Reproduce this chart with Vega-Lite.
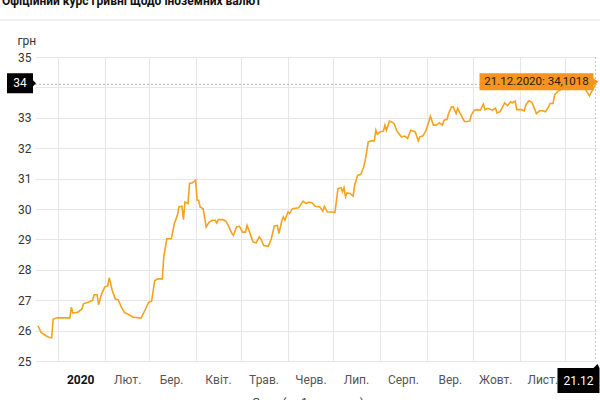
{
  "$schema": "https://vega.github.io/schema/vega-lite/v6.json",
  "width": 562,
  "height": 304,
  "autosize": "none",
  "padding": {"left": 35, "top": 57, "right": 3, "bottom": 39},
  "background": "white",
  "config": {
    "view": {"stroke": null},
    "font": "Roboto",
    "axis": {"labelFont": "Roboto", "titleFont": "Roboto"}
  },
  "datasets": {
    "rates": [
      {"date": "2019-12-19", "rate": 26.16},
      {"date": "2019-12-21", "rate": 25.94},
      {"date": "2019-12-24", "rate": 25.84},
      {"date": "2019-12-26", "rate": 25.78},
      {"date": "2019-12-28", "rate": 25.76},
      {"date": "2019-12-29", "rate": 26.38},
      {"date": "2020-01-01", "rate": 26.42},
      {"date": "2020-01-09", "rate": 26.42},
      {"date": "2020-01-10", "rate": 26.77},
      {"date": "2020-01-11", "rate": 26.58},
      {"date": "2020-01-14", "rate": 26.60},
      {"date": "2020-01-17", "rate": 26.71},
      {"date": "2020-01-18", "rate": 26.88},
      {"date": "2020-01-21", "rate": 26.93},
      {"date": "2020-01-24", "rate": 26.99},
      {"date": "2020-01-25", "rate": 27.18},
      {"date": "2020-01-27", "rate": 27.18},
      {"date": "2020-01-28", "rate": 26.85},
      {"date": "2020-01-30", "rate": 27.21},
      {"date": "2020-02-01", "rate": 27.43},
      {"date": "2020-02-03", "rate": 27.47},
      {"date": "2020-02-04", "rate": 27.74},
      {"date": "2020-02-06", "rate": 27.32},
      {"date": "2020-02-08", "rate": 27.04},
      {"date": "2020-02-10", "rate": 27.01},
      {"date": "2020-02-12", "rate": 26.77},
      {"date": "2020-02-14", "rate": 26.60},
      {"date": "2020-02-17", "rate": 26.52},
      {"date": "2020-02-20", "rate": 26.44},
      {"date": "2020-02-25", "rate": 26.41},
      {"date": "2020-02-28", "rate": 26.71},
      {"date": "2020-03-01", "rate": 26.93},
      {"date": "2020-03-03", "rate": 26.97},
      {"date": "2020-03-05", "rate": 27.65},
      {"date": "2020-03-07", "rate": 27.70},
      {"date": "2020-03-10", "rate": 27.70},
      {"date": "2020-03-11", "rate": 28.42},
      {"date": "2020-03-13", "rate": 29.02},
      {"date": "2020-03-16", "rate": 29.02},
      {"date": "2020-03-18", "rate": 29.52},
      {"date": "2020-03-20", "rate": 29.79},
      {"date": "2020-03-21", "rate": 30.07},
      {"date": "2020-03-23", "rate": 30.09},
      {"date": "2020-03-24", "rate": 29.65},
      {"date": "2020-03-25", "rate": 30.23},
      {"date": "2020-03-27", "rate": 30.18},
      {"date": "2020-03-28", "rate": 30.84},
      {"date": "2020-03-30", "rate": 30.86},
      {"date": "2020-04-01", "rate": 30.95},
      {"date": "2020-04-02", "rate": 30.29},
      {"date": "2020-04-03", "rate": 30.29},
      {"date": "2020-04-04", "rate": 30.07},
      {"date": "2020-04-06", "rate": 30.01},
      {"date": "2020-04-08", "rate": 29.41},
      {"date": "2020-04-10", "rate": 29.57},
      {"date": "2020-04-12", "rate": 29.63},
      {"date": "2020-04-14", "rate": 29.63},
      {"date": "2020-04-15", "rate": 29.54},
      {"date": "2020-04-16", "rate": 29.65},
      {"date": "2020-04-19", "rate": 29.65},
      {"date": "2020-04-21", "rate": 29.60},
      {"date": "2020-04-23", "rate": 29.41},
      {"date": "2020-04-25", "rate": 29.19},
      {"date": "2020-04-26", "rate": 29.13},
      {"date": "2020-04-28", "rate": 29.41},
      {"date": "2020-04-30", "rate": 29.43},
      {"date": "2020-05-02", "rate": 29.24},
      {"date": "2020-05-04", "rate": 29.24},
      {"date": "2020-05-05", "rate": 29.46},
      {"date": "2020-05-07", "rate": 29.19},
      {"date": "2020-05-09", "rate": 28.91},
      {"date": "2020-05-11", "rate": 28.89},
      {"date": "2020-05-13", "rate": 29.08},
      {"date": "2020-05-14", "rate": 29.02},
      {"date": "2020-05-16", "rate": 28.80},
      {"date": "2020-05-19", "rate": 28.77},
      {"date": "2020-05-21", "rate": 29.02},
      {"date": "2020-05-23", "rate": 29.44},
      {"date": "2020-05-25", "rate": 29.46},
      {"date": "2020-05-26", "rate": 29.19},
      {"date": "2020-05-28", "rate": 29.63},
      {"date": "2020-05-29", "rate": 29.74},
      {"date": "2020-05-30", "rate": 29.63},
      {"date": "2020-06-01", "rate": 29.90},
      {"date": "2020-06-02", "rate": 29.85},
      {"date": "2020-06-04", "rate": 30.01},
      {"date": "2020-06-08", "rate": 30.04},
      {"date": "2020-06-10", "rate": 30.18},
      {"date": "2020-06-11", "rate": 30.26},
      {"date": "2020-06-13", "rate": 30.18},
      {"date": "2020-06-15", "rate": 30.23},
      {"date": "2020-06-17", "rate": 30.20},
      {"date": "2020-06-19", "rate": 30.09},
      {"date": "2020-06-22", "rate": 30.07},
      {"date": "2020-06-24", "rate": 29.93},
      {"date": "2020-06-25", "rate": 30.09},
      {"date": "2020-06-27", "rate": 29.90},
      {"date": "2020-06-30", "rate": 29.90},
      {"date": "2020-07-02", "rate": 29.88},
      {"date": "2020-07-04", "rate": 30.67},
      {"date": "2020-07-06", "rate": 30.70},
      {"date": "2020-07-07", "rate": 30.56},
      {"date": "2020-07-08", "rate": 30.70},
      {"date": "2020-07-09", "rate": 30.40},
      {"date": "2020-07-10", "rate": 30.53},
      {"date": "2020-07-12", "rate": 30.51},
      {"date": "2020-07-14", "rate": 30.42},
      {"date": "2020-07-15", "rate": 30.78},
      {"date": "2020-07-17", "rate": 31.11},
      {"date": "2020-07-19", "rate": 31.13},
      {"date": "2020-07-21", "rate": 31.38},
      {"date": "2020-07-22", "rate": 31.60},
      {"date": "2020-07-24", "rate": 32.21},
      {"date": "2020-07-26", "rate": 32.24},
      {"date": "2020-07-28", "rate": 32.24},
      {"date": "2020-07-29", "rate": 32.59},
      {"date": "2020-07-30", "rate": 32.46},
      {"date": "2020-08-01", "rate": 32.54},
      {"date": "2020-08-03", "rate": 32.56},
      {"date": "2020-08-04", "rate": 32.76},
      {"date": "2020-08-05", "rate": 32.59},
      {"date": "2020-08-07", "rate": 32.89},
      {"date": "2020-08-09", "rate": 32.85},
      {"date": "2020-08-10", "rate": 32.81},
      {"date": "2020-08-12", "rate": 32.56},
      {"date": "2020-08-14", "rate": 32.43},
      {"date": "2020-08-15", "rate": 32.37},
      {"date": "2020-08-17", "rate": 32.40},
      {"date": "2020-08-19", "rate": 32.32},
      {"date": "2020-08-21", "rate": 32.59},
      {"date": "2020-08-23", "rate": 32.56},
      {"date": "2020-08-24", "rate": 32.54},
      {"date": "2020-08-26", "rate": 32.24},
      {"date": "2020-08-27", "rate": 32.37},
      {"date": "2020-08-29", "rate": 32.40},
      {"date": "2020-08-31", "rate": 32.57},
      {"date": "2020-09-02", "rate": 32.87},
      {"date": "2020-09-03", "rate": 33.05},
      {"date": "2020-09-05", "rate": 32.76},
      {"date": "2020-09-07", "rate": 32.76},
      {"date": "2020-09-09", "rate": 32.84},
      {"date": "2020-09-11", "rate": 32.76},
      {"date": "2020-09-12", "rate": 32.92},
      {"date": "2020-09-14", "rate": 32.95},
      {"date": "2020-09-15", "rate": 33.14},
      {"date": "2020-09-17", "rate": 33.36},
      {"date": "2020-09-18", "rate": 33.36},
      {"date": "2020-09-20", "rate": 33.14},
      {"date": "2020-09-21", "rate": 33.31},
      {"date": "2020-09-23", "rate": 33.11},
      {"date": "2020-09-25", "rate": 32.92},
      {"date": "2020-09-26", "rate": 32.87},
      {"date": "2020-09-29", "rate": 32.89},
      {"date": "2020-09-30", "rate": 33.09},
      {"date": "2020-10-02", "rate": 33.25},
      {"date": "2020-10-04", "rate": 33.27},
      {"date": "2020-10-06", "rate": 33.25},
      {"date": "2020-10-08", "rate": 33.45},
      {"date": "2020-10-09", "rate": 33.27},
      {"date": "2020-10-11", "rate": 33.31},
      {"date": "2020-10-14", "rate": 33.25},
      {"date": "2020-10-16", "rate": 33.32},
      {"date": "2020-10-17", "rate": 33.16},
      {"date": "2020-10-19", "rate": 33.20},
      {"date": "2020-10-21", "rate": 33.38},
      {"date": "2020-10-22", "rate": 33.49},
      {"date": "2020-10-24", "rate": 33.40},
      {"date": "2020-10-26", "rate": 33.53},
      {"date": "2020-10-27", "rate": 33.49},
      {"date": "2020-10-29", "rate": 33.55},
      {"date": "2020-10-30", "rate": 33.27},
      {"date": "2020-11-02", "rate": 33.27},
      {"date": "2020-11-04", "rate": 33.23},
      {"date": "2020-11-05", "rate": 33.42},
      {"date": "2020-11-07", "rate": 33.56},
      {"date": "2020-11-09", "rate": 33.51},
      {"date": "2020-11-11", "rate": 33.27},
      {"date": "2020-11-12", "rate": 33.14},
      {"date": "2020-11-14", "rate": 33.23},
      {"date": "2020-11-16", "rate": 33.23},
      {"date": "2020-11-18", "rate": 33.20},
      {"date": "2020-11-20", "rate": 33.36},
      {"date": "2020-11-21", "rate": 33.47},
      {"date": "2020-11-23", "rate": 33.47},
      {"date": "2020-11-24", "rate": 33.75},
      {"date": "2020-11-26", "rate": 33.86},
      {"date": "2020-12-01", "rate": 34.02},
      {"date": "2020-12-07", "rate": 33.98},
      {"date": "2020-12-13", "rate": 34.05},
      {"date": "2020-12-17", "rate": 33.72},
      {"date": "2020-12-21", "rate": 34.1018}
    ],
    "last": [
      {"date": "2020-12-21", "rate": 34.1018, "tip": "21.12.2020: 34,1018", "ylab": "34", "xlab": "21.12",
       "heading": "Офіційний курс гривні щодо іноземних валют", "legend": "Євро (за 1 одиницю)"}
    ]
  },
  "layer": [
    {
      "data": {"name": "rates"},
      "mark": {"type": "line", "color": "#f4a31e", "strokeWidth": 1.6, "clip": false},
      "encoding": {
        "x": {
          "field": "date",
          "type": "temporal",
          "scale": {"domain": [{"year": 2019, "month": 12, "date": 17}, {"year": 2020, "month": 12, "date": 22}], "nice": false},
          "axis": {
            "title": null,
            "tickCount": {"interval": "month", "step": 1},
            "labelExpr": "['2020','Лют.','Бер.','Квіт.','Трав.','Черв.','Лип.','Серп.','Вер.','Жовт.','Лист.',''][month(datum.value)]",
            "labelOffset": 22.5,
            "labelAlign": "center",
            "labelBaseline": "middle",
            "labelPadding": 18,
            "labelFontSize": 12,
            "labelColor": {"condition": {"test": "month(datum.value) == 0", "value": "#111111"}, "value": "#555555"},
            "labelFontWeight": {"condition": {"test": "month(datum.value) == 0", "value": "bold"}, "value": "normal"},
            "labelOverlap": false,
            "labelFlush": false,
            "labelBound": false,
            "ticks": false,
            "domain": false,
            "grid": true,
            "gridColor": "#e6e6e6",
            "gridWidth": 1
          }
        },
        "y": {
          "field": "rate",
          "type": "quantitative",
          "scale": {"domain": [25, 35], "nice": false, "zero": false},
          "axis": {
            "title": "грн",
            "titleAngle": 0,
            "titleX": -18,
            "titleY": -17,
            "titleAlign": "left",
            "titleBaseline": "middle",
            "titleFontSize": 12,
            "titleFontWeight": "normal",
            "titleColor": "#333333",
            "tickCount": 10,
            "format": "d",
            "labelExpr": "datum.value == 34 ? '' : datum.label",
            "labelOverlap": false,
            "labelFontSize": 12,
            "labelColor": "#333333",
            "labelPadding": 4,
            "ticks": false,
            "domain": false,
            "grid": true,
            "gridColor": "#e6e6e6",
            "gridWidth": 1
          }
        }
      }
    },
    {
      "data": {"name": "last"},
      "mark": {"type": "rule", "color": "#b5b5b5", "strokeDash": [2, 2], "strokeWidth": 1},
      "encoding": {"y": {"field": "rate", "type": "quantitative"}}
    },
    {
      "data": {"name": "last"},
      "mark": {"type": "rule", "color": "#c8c8c8", "strokeDash": [2, 2], "strokeWidth": 1},
      "encoding": {"x": {"field": "date", "type": "temporal"}}
    },
    {
      "data": {"name": "last"},
      "mark": {"type": "rule", "color": "#ebebeb", "strokeWidth": 1.5, "clip": false},
      "encoding": {
        "y": {"datum": 36.22, "type": "quantitative"},
        "x": {"datum": {"year": 2019, "month": 11, "date": 23}, "type": "temporal"},
        "x2": {"datum": {"year": 2020, "month": 12, "date": 27}}
      }
    },
    {
      "data": {"name": "last"},
      "mark": {"type": "text", "color": "#111111", "fontSize": 12, "fontWeight": "bold", "align": "left", "baseline": "alphabetic"},
      "encoding": {
        "x": {"datum": {"year": 2019, "month": 11, "date": 25, "hours": 4}, "type": "temporal"},
        "y": {"datum": 36.72, "type": "quantitative"},
        "text": {"field": "heading"}
      }
    },
    {
      "data": {"name": "last"},
      "mark": {"type": "text", "color": "#333333", "fontSize": 11.5, "align": "center", "baseline": "top"},
      "encoding": {
        "x": {"datum": {"year": 2020, "month": 6, "date": 14, "hours": 5}, "type": "temporal"},
        "y": {"datum": 23.82, "type": "quantitative"},
        "text": {"field": "legend"}
      }
    },
    {
      "data": {"name": "last"},
      "mark": {"type": "point", "filled": true, "fill": "#000000", "opacity": 1, "strokeWidth": 0, "size": 4,
        "shape": "M-28,-11 L-2,-11 L-2,-4 L1,-1 L-2,2 L-2,9 L-28,9 Z"},
      "encoding": {
        "x": {"datum": {"year": 2019, "month": 12, "date": 17}, "type": "temporal"},
        "y": {"field": "rate", "type": "quantitative"}
      }
    },
    {
      "data": {"name": "last"},
      "mark": {"type": "text", "color": "#ffffff", "fontSize": 12, "align": "center", "baseline": "middle", "dx": -15, "dy": -1},
      "encoding": {
        "x": {"datum": {"year": 2019, "month": 12, "date": 17}, "type": "temporal"},
        "y": {"field": "rate", "type": "quantitative"},
        "text": {"field": "ylab"}
      }
    },
    {
      "data": {"name": "last"},
      "mark": {"type": "point", "filled": true, "fill": "#f7941d", "opacity": 1, "strokeWidth": 0, "size": 4,
        "shape": "M-116,-11 L-2,-11 L-2,-6 L3,-2.5 L-2,1 L-2,6 L-116,6 Z"},
      "encoding": {
        "x": {"field": "date", "type": "temporal"},
        "y": {"field": "rate", "type": "quantitative"}
      }
    },
    {
      "data": {"name": "last"},
      "mark": {"type": "text", "color": "#2a1a05", "fontSize": 11.5, "align": "center", "baseline": "middle", "dx": -59, "dy": -2.5},
      "encoding": {
        "x": {"field": "date", "type": "temporal"},
        "y": {"field": "rate", "type": "quantitative"},
        "text": {"field": "tip"}
      }
    },
    {
      "data": {"name": "last"},
      "mark": {"type": "point", "filled": true, "fill": "#000000", "opacity": 1, "strokeWidth": 0, "size": 4,
        "shape": "M-38,7 L-2,7 L2,3 L4,7 L4,32 L-38,32 Z"},
      "encoding": {
        "x": {"field": "date", "type": "temporal"},
        "y": {"datum": 25, "type": "quantitative"}
      }
    },
    {
      "data": {"name": "last"},
      "mark": {"type": "text", "color": "#ffffff", "fontSize": 12, "align": "center", "baseline": "middle", "dx": -17, "dy": 19.5},
      "encoding": {
        "x": {"field": "date", "type": "temporal"},
        "y": {"datum": 25, "type": "quantitative"},
        "text": {"field": "xlab"}
      }
    }
  ]
}
